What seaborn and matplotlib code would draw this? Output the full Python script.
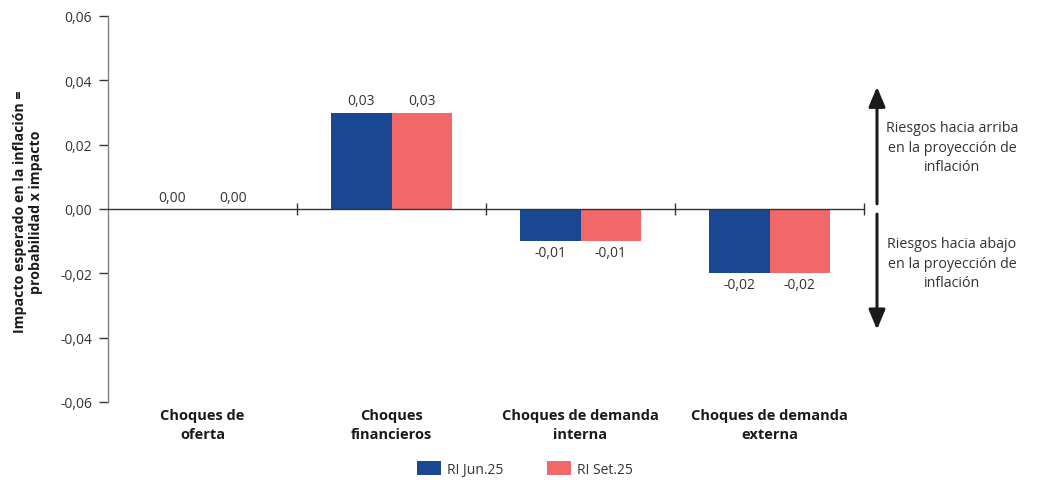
import numpy as np
import pandas as pd
import matplotlib
matplotlib.use("Agg")
import matplotlib.pyplot as plt
import seaborn as sns

# ---- Data ----
categorias = ["Choques de\noferta", "Choques\nfinancieros",
              "Choques de demanda\ninterna", "Choques de demanda\nexterna"]
series = ["RI Jun.25", "RI Set.25"]
valores_jun = [0.00, 0.03, -0.01, -0.02]
valores_set = [0.00, 0.03, -0.01, -0.02]
yticks = [-0.06, -0.04, -0.02, 0.00, 0.02, 0.04, 0.06]
texto_arriba = "Riesgos hacia arriba\nen la proyección de\ninflación"
texto_abajo = "Riesgos hacia abajo\nen la proyección de\ninflación"
ylabel = "Impacto esperado en la inflación =\nprobabilidad x impacto"

df = pd.DataFrame({
    "categoria": categorias * 2,
    "serie": [series[0]] * 4 + [series[1]] * 4,
    "valor": valores_jun + valores_set,
})

# ---- Style ----
sns.set_style("white")
plt.rcParams["font.family"] = ["Open Sans", "DejaVu Sans"]
colores = {"RI Jun.25": "#1a4792", "RI Set.25": "#f26767"}
txt = "#333333"

fig = plt.figure(figsize=(10.37, 4.81), dpi=100)
ax = fig.add_axes([108 / 1037, 1 - 403 / 481, 756 / 1037, 386 / 481])

sns.barplot(data=df, x="categoria", y="valor", hue="serie", palette=colores,
            width=0.64, saturation=1, linewidth=0, edgecolor="none", ax=ax, legend=True)

fmt = lambda v: f"{v:.2f}".replace(".", ",")
for cont in ax.containers:
    ax.bar_label(cont, labels=[fmt(v) for v in cont.datavalues], padding=3,
                 fontsize=10, color=txt)

ax.set_xlim(-0.5, 3.5)
ax.set_ylim(-0.06, 0.06)
ax.set_yticks(yticks)
ax.set_yticklabels([fmt(v) for v in yticks], fontsize=10, color=txt)
ax.tick_params(axis="y", left=True, direction="out", length=6.5, width=1,
               color="#333333", pad=5)

# x axis at zero with boundary ticks
for s in ["top", "right"]:
    ax.spines[s].set_visible(False)
ax.spines["left"].set_color("#808080")
ax.spines["left"].set_linewidth(1)
ax.spines["bottom"].set_position(("data", 0))
ax.spines["bottom"].set_color("#333333")
ax.spines["bottom"].set_linewidth(1)
ax.set_xticks([])
ax.set_xticks([0.5, 1.5, 2.5, 3.5], minor=True)
ax.tick_params(axis="x", which="minor", bottom=True, direction="inout", length=9,
               width=1, color="#333333", labelbottom=False)
ax.set_xlabel("")
ax.set_ylabel("")

# category labels below the plot
for i, c in enumerate(categorias):
    ax.annotate(c, xy=(i, 0), xycoords=("data", "axes fraction"),
                xytext=(0, -4), textcoords="offset points", ha="center", va="top",
                fontsize=10.5, fontweight="bold", color="#1a1a1a", linespacing=1.5)

fig.text(28 / 1037, 1 - 212 / 481, ylabel, rotation=90, ha="center", va="center",
         fontsize=10.2, fontweight="bold", color="#1a1a1a", multialignment="center",
         linespacing=1.25)

# legend
handles, labels = ax.get_legend_handles_labels()
ax.legend_.remove()
fig.legend(handles, labels, loc="center", bbox_to_anchor=(525 / 1037, 1 - 470 / 481),
           ncol=2, frameon=False, fontsize=10, handlelength=1.7, handleheight=1.2,
           handletextpad=0.4, columnspacing=3.2, labelcolor=txt)

# risk arrows
xa = 877 / 1037
arrow = dict(arrowstyle="-|>,head_length=0.6,head_width=0.25", color="#1a1a1a",
             lw=2.2, mutation_scale=20, shrinkA=0, shrinkB=0)
ax.annotate("", xy=(xa, 0.038), xycoords=("figure fraction", "data"),
            xytext=(xa, 0.0016), textcoords=("figure fraction", "data"),
            arrowprops=arrow, annotation_clip=False)
ax.annotate("", xy=(xa, -0.0375), xycoords=("figure fraction", "data"),
            xytext=(xa, -0.0016), textcoords=("figure fraction", "data"),
            arrowprops=arrow, annotation_clip=False)
fig.text(952 / 1037, 1 - 148 / 481, texto_arriba, ha="center", va="center",
         fontsize=10.3, color=txt, multialignment="center", linespacing=1.4)
fig.text(952 / 1037, 1 - 264 / 481, texto_abajo, ha="center", va="center",
         fontsize=10.3, color=txt, multialignment="center", linespacing=1.4)

fig.savefig("out.png", dpi=100)
